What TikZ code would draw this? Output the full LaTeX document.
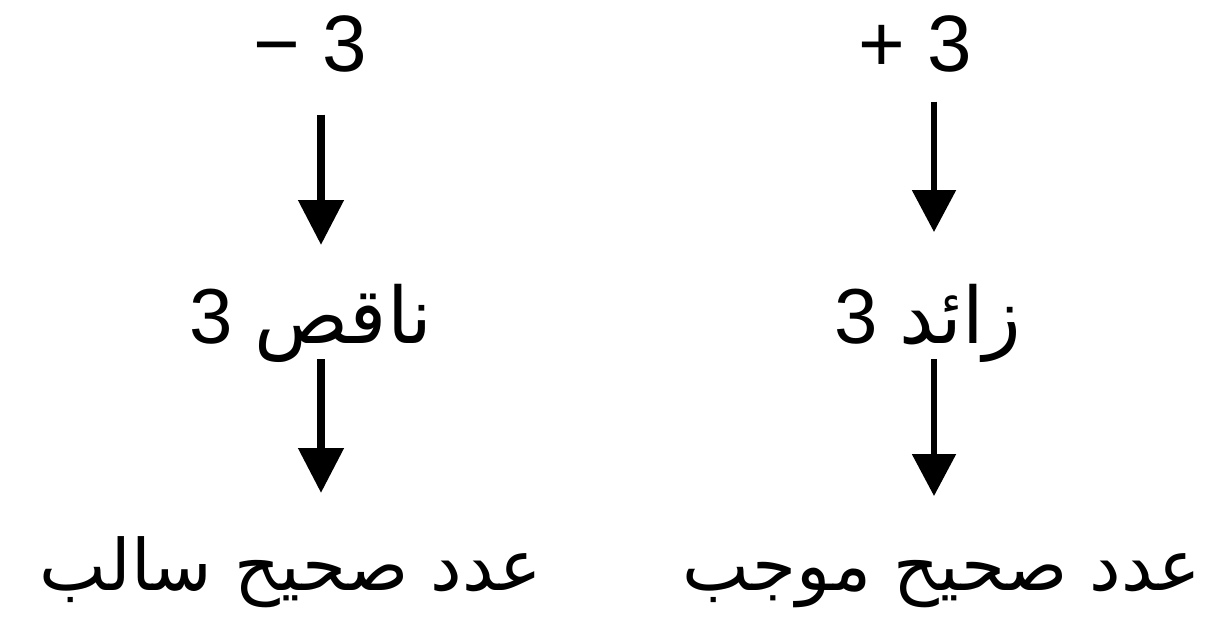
\documentclass[tikz,border=0pt]{standalone}
\usepackage{fontspec}
\setmainfont{Liberation Sans}
\newfontfamily\arabicfont[Script=Arabic]{DejaVu Sans}
\TeXXeTstate=1
\usetikzlibrary{arrows.meta}
\begin{document}
\begin{tikzpicture}[x=1pt,y=-1pt,
  lbl/.style={inner sep=0pt, font=\fontsize{80}{84}\selectfont},
  mlbl/.style={inner sep=0pt, anchor=base, font=\fontsize{78}{84}\selectfont},
  albl/.style={inner sep=0pt, anchor=base, font=\fontsize{71}{76}\selectfont\arabicfont},
  thickarr/.style={line width=8pt, -{Triangle[width=44pt,length=45pt]}},
  thinarr/.style={line width=5.5pt, -{Triangle[width=43pt,length=42pt]}}]
\useasboundingbox (0,0) rectangle (1223,632);
% top row
\node[lbl] (m3) at (310,44) {− 3};
\node[lbl] (p3) at (915,44) {+ 3};
% middle row
\node[mlbl] (naqis) at (311,343) {\beginR{\arabicfont ناقص} 3\endR};
\node[mlbl] (zaid) at (928,343) {\beginR{\arabicfont زائد} 3\endR};
% bottom row
\node[albl] (neg) at (291,590) {\beginR عدد صحيح سالب\endR};
\node[albl] (pos) at (942,590) {\beginR عدد صحيح موجب\endR};
% arrows
\coordinate (lx) at (321,0);
\coordinate (rx) at (934,0);
\draw[thickarr] ([yshift=-42pt]m3.south -| lx) -- ([yshift=98pt]naqis.base -| lx);
\draw[thinarr] ([yshift=-29pt]p3.south -| rx) -- ([yshift=111pt]zaid.base -| rx);
\draw[thickarr] ([yshift=-16pt]naqis.base -| lx) -- ([yshift=97pt]neg.base -| lx);
\draw[thinarr] ([yshift=-16pt]zaid.base -| rx) -- ([yshift=94pt]pos.base -| rx);
\end{tikzpicture}
\end{document}
